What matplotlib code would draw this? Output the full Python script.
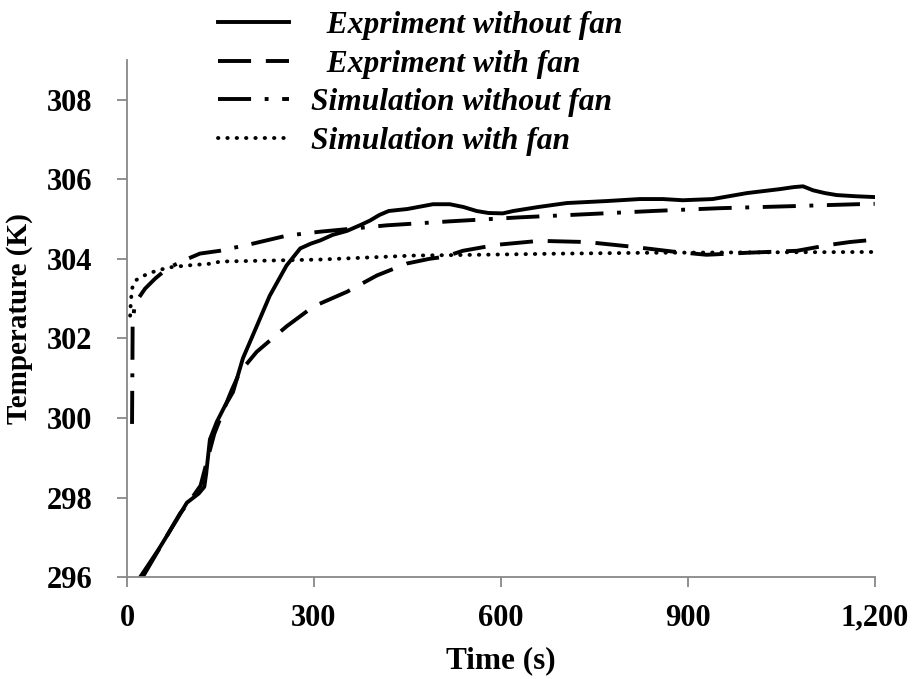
import numpy as np
import matplotlib.pyplot as plt
from matplotlib.ticker import FuncFormatter

# Data
t_exp_nofan = [21, 50, 82, 96, 115, 124, 127, 133, 144, 157, 170, 186, 208, 229, 256,
               278, 295, 310, 330, 353, 375, 390, 405, 420, 450, 491, 518, 540, 561,
               580, 603, 620, 660, 706, 770, 823, 860, 892, 940, 995, 1048, 1070,
               1085, 1101, 1120, 1139, 1170, 1200]
T_exp_nofan = [296.0, 296.68, 297.5, 297.87, 298.1, 298.27, 298.6, 299.46, 299.9, 300.3,
               300.65, 301.5, 302.3, 303.07, 303.83, 304.26, 304.38, 304.46, 304.6,
               304.7, 304.85, 304.96, 305.1, 305.2, 305.25, 305.37, 305.37, 305.3,
               305.2, 305.15, 305.14, 305.2, 305.3, 305.4, 305.45, 305.5, 305.5,
               305.47, 305.5, 305.65, 305.75, 305.8, 305.82, 305.72, 305.65, 305.6,
               305.57, 305.55]

t_exp_fan = [25, 55, 85, 100, 118, 128, 140, 155, 168, 181, 208, 256, 299, 353, 401,
             449, 486, 510, 539, 593, 662, 738, 812, 876, 930, 995, 1075, 1128, 1160, 1200]
T_exp_fan = [296.0, 296.8, 297.6, 297.9, 298.3, 298.9, 299.6, 300.2, 300.7, 301.15,
             301.66, 302.3, 302.8, 303.17, 303.58, 303.88, 304.0, 304.05, 304.2,
             304.35, 304.45, 304.42, 304.3, 304.18, 304.1, 304.15, 304.2, 304.35,
             304.42, 304.48]

t_sim_nofan = [8, 8.5, 9, 12, 18, 29, 45, 64, 90, 117, 149, 202, 256, 310, 417,
               518, 630, 738, 844, 951, 1064, 1171, 1200]
T_sim_nofan = [299.85, 301.0, 302.4, 302.8, 303.0, 303.25, 303.5, 303.75, 303.95,
               304.13, 304.2, 304.38, 304.58, 304.68, 304.84, 304.94, 305.04,
               305.12, 305.2, 305.27, 305.32, 305.37, 305.38]

t_sim_fan = [5, 6, 8, 13, 26, 42, 66, 96, 138, 149, 310, 459, 566, 700, 834, 1000, 1200]
T_sim_fan = [302.57, 302.9, 303.25, 303.45, 303.57, 303.67, 303.78, 303.83, 303.88,
             303.93, 303.98, 304.08, 304.1, 304.13, 304.15, 304.16, 304.17]

labels = ["  Expriment without fan", "  Expriment with fan",
          "Simulation without fan", "Simulation with fan"]

plt.rcParams['font.family'] = 'Liberation Serif'
plt.rcParams['font.weight'] = 'bold'

fig = plt.figure(figsize=(9.14, 6.79), dpi=100)
ax = fig.add_axes([0.139, 0.150, 0.818, 0.762])

lw = 2.8
l1, = ax.plot(t_exp_nofan, T_exp_nofan, color='black', lw=lw, solid_joinstyle='round')
l2, = ax.plot(t_exp_fan, T_exp_fan, color='black', lw=lw, linestyle=(0, (8.5, 3.8)))
l3, = ax.plot(t_sim_nofan, T_sim_nofan, color='black', lw=lw,
              linestyle=(0, (8.5, 3.5, 1.0, 3.5)))
l4, = ax.plot(t_sim_fan, T_sim_fan, color='black', lw=lw, linestyle=(0, (0.1, 2.3)),
              dash_capstyle='round')

ax.set_xlim(0, 1200)
ax.set_ylim(296, 309)
ax.set_xticks([0, 300, 600, 900, 1200])
ax.set_yticks([296, 298, 300, 302, 304, 306, 308])
ax.xaxis.set_major_formatter(FuncFormatter(lambda v, p: "{:,.0f}".format(v)))

for s in ['top', 'right']:
    ax.spines[s].set_visible(False)
for s in ['left', 'bottom']:
    ax.spines[s].set_color('#888888')
    ax.spines[s].set_linewidth(1.3)
ax.tick_params(axis='both', colors='#888888', width=1.3, length=7,
               labelcolor='black', labelsize=22)
ax.tick_params(axis='y', pad=18)
ax.tick_params(axis='x', pad=12)

ax.set_xlabel("Time (s)", fontsize=22.5, fontweight='bold', labelpad=10)
ax.set_ylabel("Temperature (K)", fontsize=21, fontweight='bold', labelpad=10)

leg = fig.legend([l1, l2, l3, l4], labels, loc='upper left',
                 bbox_to_anchor=(0.207, 1.026), frameon=False,
                 prop={'family': 'Liberation Serif', 'weight': 'bold',
                       'style': 'italic', 'size': 22.7},
                 handlelength=2.25, handletextpad=0.7, labelspacing=0.31)

fig.savefig("out.png", dpi=100)
